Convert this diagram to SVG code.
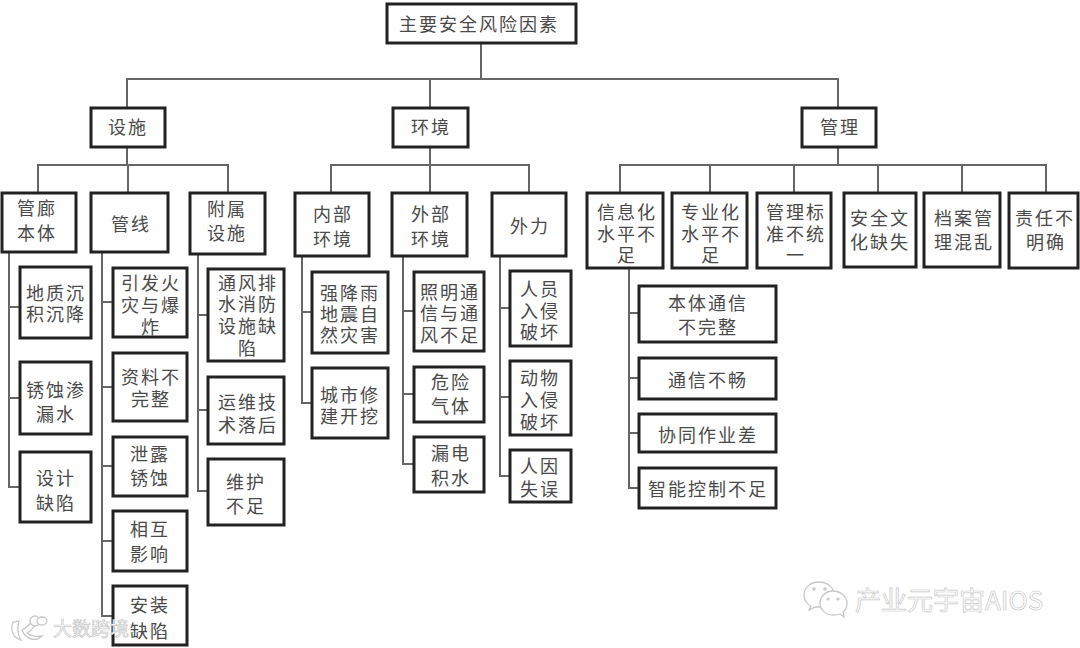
<svg xmlns="http://www.w3.org/2000/svg" width="1080" height="648" viewBox="0 0 1080 648">
<style>
.n rect{fill:#fff;stroke:#222;stroke-width:3}
.n text{font-family:"Noto Sans CJK SC","Noto Sans",sans-serif;font-size:18px;fill:#4a4a4a;text-anchor:middle;letter-spacing:2px}
#connectors path{fill:none;stroke:#666;stroke-width:2}
.wm{font-family:"Noto Sans CJK SC","Noto Sans",sans-serif;fill:#fff;stroke:#c8c8c8;stroke-width:.7}
.wmi{fill:#fff;stroke:#c8c8c8;stroke-width:1.3}
</style>
<rect width="1080" height="648" fill="#fff"/>
<g id="connectors">
<path d="M481 43V79M127 108V79H838V108M430 79V108"/>
<path d="M127 147V165M38 193V165H228V193M128 165V193"/>
<path d="M430 147V165M331 193V165H529V193M430 165V193"/>
<path d="M838 147V165M620 193V165H1046V193M710 165V193M794 165V193M878 165V193M962 165V193"/>
<path d="M9 252V487H20M9 307H20M9 398H20"/>
<path d="M102 252V616H113M102 302H113M102 387H113M102 466H113M102 541H113"/>
<path d="M198 254V491H208M198 315H208M198 410H208"/>
<path d="M302 256V403H312M302 312H312"/>
<path d="M403 256V464H414M403 311H414M403 394H414"/>
<path d="M500 256V476H510M500 308H510M500 397H510"/>
<path d="M629 268V488H639M629 313H639M629 378H639M629 433H639"/>
</g>
<g id="n-root" class="n"><rect x="387" y="4" width="189" height="39"/><text x="479" y="31">主要安全风险因素</text></g>
<g id="n-sheshi" class="n"><rect x="91" y="108" width="74" height="39"/><text x="128" y="134">设施</text></g>
<g id="n-huanjing" class="n"><rect x="393" y="108" width="75" height="39"/><text x="431" y="134">环境</text></g>
<g id="n-guanli" class="n"><rect x="802" y="108" width="74" height="39"/><text x="840" y="134">管理</text></g>

<g id="n-a1" class="n"><rect x="2" y="193" width="74" height="59"/><text><tspan x="37" y="215">管廊</tspan><tspan x="37" y="240">本体</tspan></text></g>
<g id="n-a2" class="n"><rect x="91" y="193" width="77" height="59"/><text x="131" y="231">管线</text></g>
<g id="n-a3" class="n"><rect x="190" y="193" width="75" height="61"/><text><tspan x="227" y="216">附属</tspan><tspan x="227" y="240">设施</tspan></text></g>

<g id="n-a11" class="n"><rect x="20" y="267" width="71" height="71"/><text><tspan x="56" y="300">地质沉</tspan><tspan x="56" y="321">积沉降</tspan></text></g>
<g id="n-a12" class="n"><rect x="20" y="362" width="71" height="72"/><text><tspan x="56" y="397">锈蚀渗</tspan><tspan x="56" y="421">漏水</tspan></text></g>
<g id="n-a13" class="n"><rect x="20" y="452" width="71" height="70"/><text><tspan x="56" y="485">设计</tspan><tspan x="56" y="510">缺陷</tspan></text></g>

<g id="n-a21" class="n"><rect x="113" y="268" width="74" height="69"/><text><tspan x="151" y="290">引发火</tspan><tspan x="151" y="312">灾与爆</tspan><tspan x="151" y="334">炸</tspan></text></g>
<g id="n-a22" class="n"><rect x="113" y="353" width="74" height="68"/><text><tspan x="151" y="384">资料不</tspan><tspan x="151" y="406">完整</tspan></text></g>
<g id="n-a23" class="n"><rect x="113" y="437" width="74" height="59"/><text><tspan x="150" y="461">泄露</tspan><tspan x="150" y="485">锈蚀</tspan></text></g>
<g id="n-a24" class="n"><rect x="113" y="511" width="74" height="60"/><text><tspan x="150" y="536">相互</tspan><tspan x="150" y="561">影响</tspan></text></g>
<g id="n-a25" class="n"><rect x="113" y="586" width="74" height="59"/><text><tspan x="150" y="612">安装</tspan><tspan x="150" y="638">缺陷</tspan></text></g>

<g id="n-a31" class="n"><rect x="208" y="269" width="76" height="92"/><text><tspan x="248" y="290">通风排</tspan><tspan x="248" y="311">水消防</tspan><tspan x="248" y="333">设施缺</tspan><tspan x="248" y="355">陷</tspan></text></g>
<g id="n-a32" class="n"><rect x="208" y="377" width="76" height="67"/><text><tspan x="248" y="409">运维技</tspan><tspan x="248" y="432">术落后</tspan></text></g>
<g id="n-a33" class="n"><rect x="208" y="459" width="76" height="66"/><text><tspan x="246" y="489">维护</tspan><tspan x="246" y="513">不足</tspan></text></g>

<g id="n-b1" class="n"><rect x="295" y="193" width="74" height="63"/><text><tspan x="333" y="221">内部</tspan><tspan x="333" y="246">环境</tspan></text></g>
<g id="n-b2" class="n"><rect x="392" y="193" width="75" height="63"/><text><tspan x="431" y="221">外部</tspan><tspan x="431" y="246">环境</tspan></text></g>
<g id="n-b3" class="n"><rect x="492" y="193" width="74" height="63"/><text x="530" y="233">外力</text></g>

<g id="n-b11" class="n"><rect x="312" y="272" width="76" height="81"/><text><tspan x="350" y="300">强降雨</tspan><tspan x="350" y="321">地震自</tspan><tspan x="350" y="342">然灾害</tspan></text></g>
<g id="n-b12" class="n"><rect x="312" y="368" width="76" height="70"/><text><tspan x="350" y="402">城市修</tspan><tspan x="350" y="423">建开挖</tspan></text></g>
<g id="n-b21" class="n"><rect x="414" y="272" width="70" height="79"/><text><tspan x="450" y="299">照明通</tspan><tspan x="450" y="320">信与通</tspan><tspan x="450" y="342">风不足</tspan></text></g>
<g id="n-b22" class="n"><rect x="414" y="367" width="70" height="55"/><text><tspan x="451" y="389">危险</tspan><tspan x="451" y="413">气体</tspan></text></g>
<g id="n-b23" class="n"><rect x="414" y="437" width="70" height="55"/><text><tspan x="451" y="460">漏电</tspan><tspan x="451" y="485">积水</tspan></text></g>
<g id="n-b31" class="n"><rect x="510" y="271" width="61" height="75"/><text><tspan x="540" y="296">人员</tspan><tspan x="540" y="318">入侵</tspan><tspan x="540" y="339">破坏</tspan></text></g>
<g id="n-b32" class="n"><rect x="510" y="361" width="61" height="74"/><text><tspan x="540" y="385">动物</tspan><tspan x="540" y="407">入侵</tspan><tspan x="540" y="429">破坏</tspan></text></g>
<g id="n-b33" class="n"><rect x="510" y="450" width="61" height="52"/><text><tspan x="540" y="473">人因</tspan><tspan x="540" y="496">失误</tspan></text></g>

<g id="n-c1" class="n"><rect x="587" y="193" width="76" height="75"/><text><tspan x="627" y="219">信息化</tspan><tspan x="627" y="241">水平不</tspan><tspan x="627" y="262">足</tspan></text></g>
<g id="n-c2" class="n"><rect x="672" y="193" width="75" height="75"/><text><tspan x="711" y="219">专业化</tspan><tspan x="711" y="241">水平不</tspan><tspan x="711" y="262">足</tspan></text></g>
<g id="n-c3" class="n"><rect x="757" y="193" width="74" height="75"/><text><tspan x="796" y="219">管理标</tspan><tspan x="796" y="241">准不统</tspan><tspan x="796" y="262">一</tspan></text></g>
<g id="n-c4" class="n"><rect x="844" y="193" width="72" height="74"/><text><tspan x="880" y="225">安全文</tspan><tspan x="880" y="249">化缺失</tspan></text></g>
<g id="n-c5" class="n"><rect x="924" y="193" width="76" height="74"/><text><tspan x="964" y="225">档案管</tspan><tspan x="964" y="249">理混乱</tspan></text></g>
<g id="n-c6" class="n"><rect x="1009" y="193" width="69" height="75"/><text><tspan x="1045" y="225">责任不</tspan><tspan x="1046" y="249">明确</tspan></text></g>

<g id="n-c11" class="n"><rect x="639" y="286" width="137" height="56"/><text><tspan x="708" y="310">本体通信</tspan><tspan x="708" y="334">不完整</tspan></text></g>
<g id="n-c12" class="n"><rect x="639" y="358" width="137" height="41"/><text x="708" y="387">通信不畅</text></g>
<g id="n-c13" class="n"><rect x="639" y="414" width="137" height="38"/><text x="708" y="442">协同作业差</text></g>
<g id="n-c14" class="n"><rect x="639" y="468" width="137" height="40"/><text x="708" y="496">智能控制不足</text></g>

<g id="watermark-left">
<path class="wmi" d="M13 622C10 630 13 638 21 640C17 634 17 628 19 621ZM22 630C28 627 32 622 33 617L37 618C36 624 33 630 27 633C31 636 36 637 42 636C36 642 26 640 22 630Z"/>
<ellipse class="wmi" cx="35" cy="621" rx="5" ry="5"/>
<ellipse class="wmi" cx="42" cy="621" rx="5" ry="4"/>
<text class="wm" x="53" y="636" font-size="19">大数跨境</text>
</g>
<g id="watermark-right">
<path class="wmi" d="M819 582C810 582 804 588 804 595C804 600 807 604 811 606L809 610L815 607L824 607C832 606 834 598 834 595C834 588 828 582 819 582Z"/>
<path class="wmi" d="M833 591C825 591 820 597 820 603C820 610 826 615 833 615C835 615 838 615 840 614L844 617L843 612C846 610 847 607 847 603C847 597 841 591 833 591Z"/>
<g fill="#c8c8c8"><circle cx="814" cy="589" r="1.8"/><circle cx="825" cy="589" r="1.8"/><circle cx="828" cy="599" r="1.6"/><circle cx="838" cy="599" r="1.6"/></g>
<text class="wm" x="855" y="610" font-size="26">产业元宇宙AIOS</text>
</g>
</svg>
